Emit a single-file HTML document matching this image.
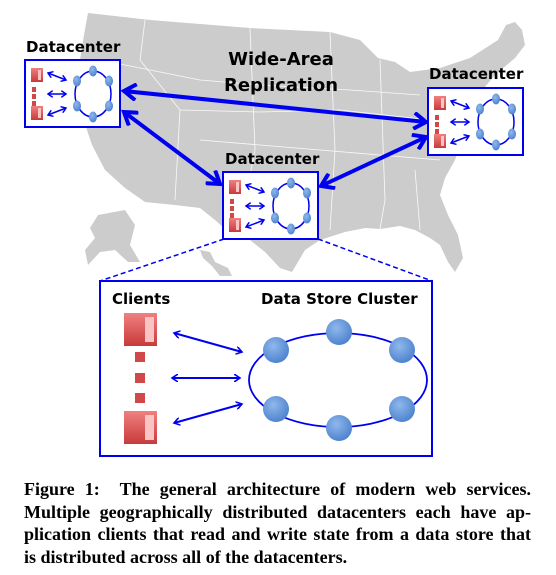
<!DOCTYPE html>
<html><head><meta charset="utf-8"><style>
html,body{margin:0;padding:0;background:#fff;width:556px;height:575px;overflow:hidden}
svg{position:absolute;left:0;top:0}
.cap{position:absolute;left:24px;top:478px;width:507px;font-family:"Liberation Serif",serif;font-weight:bold;font-size:18px;line-height:22.5px;color:#000}
.cap div{text-align:justify;text-align-last:justify;white-space:nowrap}
.cap div.l{text-align-last:left}
.lbl{font-family:"DejaVu Sans","Liberation Sans",sans-serif;font-weight:bold;fill:#000}
</style></head><body>
<svg width="556" height="575" viewBox="0 0 556 575">
<defs>
<linearGradient id="rg" x1="0" y1="0" x2="0" y2="1"><stop offset="0" stop-color="#f08080"/><stop offset="1" stop-color="#c83a3a"/></linearGradient>
<radialGradient id="bg" cx="0.4" cy="0.35" r="0.7"><stop offset="0" stop-color="#8fb8ec"/><stop offset="1" stop-color="#4a80cc"/></radialGradient>
<marker id="ah" markerWidth="8" markerHeight="8" refX="6" refY="4" orient="auto-start-reverse" markerUnits="userSpaceOnUse"><path d="M0,0 L6,4 L0,8" fill="none" stroke="#0000f0" stroke-width="1.6"/></marker>
<marker id="ahs" markerWidth="7" markerHeight="7" refX="5" refY="3.5" orient="auto-start-reverse" markerUnits="userSpaceOnUse"><path d="M0,0 L5,3.5 L0,7" fill="none" stroke="#0000f0" stroke-width="1.5"/></marker>
<marker id="ahb" markerWidth="18" markerHeight="18" refX="13" refY="9" orient="auto-start-reverse" markerUnits="userSpaceOnUse"><path d="M1,1 L13,9 L1,17" fill="none" stroke="#0000f0" stroke-width="4"/></marker>
<g id="dc">
<rect x="0" y="0" width="95" height="67" fill="#fff" stroke="#0000f0" stroke-width="2"/>
<rect x="6" y="8" width="12" height="14" fill="url(#rg)"/><rect x="13" y="10" width="3" height="10" fill="#fbc4c4"/>
<rect x="7" y="27" width="4" height="5" fill="#d04848"/><rect x="7" y="34" width="4" height="5" fill="#d04848"/><rect x="7" y="41" width="4" height="5" fill="#d04848"/>
<rect x="6" y="46" width="12" height="14" fill="url(#rg)"/><rect x="13" y="48" width="3" height="10" fill="#fbc4c4"/>
<line x1="23" y1="13" x2="41" y2="20" stroke="#0000f0" stroke-width="1.5" marker-start="url(#ahs)" marker-end="url(#ahs)"/>
<line x1="23" y1="34" x2="41" y2="34" stroke="#0000f0" stroke-width="1.5" marker-start="url(#ahs)" marker-end="url(#ahs)"/>
<line x1="23" y1="55" x2="41" y2="48" stroke="#0000f0" stroke-width="1.5" marker-start="url(#ahs)" marker-end="url(#ahs)"/>
<ellipse cx="68" cy="34" rx="18" ry="23" fill="none" stroke="#0000f0" stroke-width="1.5"/>
<ellipse cx="68" cy="11" rx="4" ry="5.5" fill="url(#bg)"/><ellipse cx="52" cy="21" rx="4" ry="5.5" fill="url(#bg)"/><ellipse cx="84" cy="21" rx="4" ry="5.5" fill="url(#bg)"/>
<ellipse cx="52" cy="46" rx="4" ry="5.5" fill="url(#bg)"/><ellipse cx="84" cy="46" rx="4" ry="5.5" fill="url(#bg)"/><ellipse cx="68" cy="57" rx="4" ry="5.5" fill="url(#bg)"/>
</g>
</defs>
<path fill="#cccccc" d="M88,13 L150,20 L250,28 L330,32 L360,40 L378,58 L395,62 L410,72 L440,68 L470,58 L498,40 L506,25 L515,22 L522,30 L525,45 L515,58 L495,75 L478,95 L465,120 L462,140 L455,160 L445,178 L440,195 L448,215 L458,235 L463,258 L455,272 L448,262 L440,245 L430,238 L415,230 L400,226 L380,229 L365,228 L345,232 L320,240 L305,250 L292,272 L280,268 L265,252 L250,240 L235,238 L215,220 L200,208 L175,205 L145,202 L125,188 L105,170 L92,145 L82,115 L78,90 L80,60 L84,35 Z"/>
<path fill="#cccccc" d="M98,215 L125,210 L135,225 L130,245 L140,262 L128,262 L115,250 L100,252 L88,265 L85,250 L95,238 L90,228 Z"/>
<path fill="#cccccc" d="M200,250 L210,252 L215,262 L228,268 L232,276 L220,276 L212,266 L203,258 Z"/>
<g stroke="#ffffff" stroke-width="0.8" fill="none" opacity="0.9">
<path d="M145,20 L140,60 L180,110 L175,200"/><path d="M100,60 L200,80 L260,85 L350,90 L420,95"/><path d="M180,110 L260,112 L340,110 L430,120"/><path d="M250,28 L255,150 L245,200"/><path d="M330,32 L335,150 L330,230"/><path d="M200,140 L320,150 L440,160"/><path d="M380,60 L385,200 L380,229"/><path d="M415,170 L420,230"/>
</g>
<line x1="224" y1="239" x2="100" y2="281" stroke="#0000f0" stroke-width="1.5" stroke-dasharray="5,3"/>
<line x1="318" y1="239" x2="432" y2="281" stroke="#0000f0" stroke-width="1.5" stroke-dasharray="5,3"/>
<line x1="124" y1="91" x2="426" y2="122" stroke="#0000f0" stroke-width="4" marker-start="url(#ahb)" marker-end="url(#ahb)"/>
<line x1="124" y1="112" x2="220" y2="184" stroke="#0000f0" stroke-width="4" marker-start="url(#ahb)" marker-end="url(#ahb)"/>
<line x1="321" y1="186" x2="426" y2="137" stroke="#0000f0" stroke-width="4" marker-start="url(#ahb)" marker-end="url(#ahb)"/>
<use href="#dc" x="25" y="60"/>
<use href="#dc" x="223" y="172"/>
<use href="#dc" x="428" y="88"/>
<text class="lbl" x="26" y="52" font-size="15">Datacenter</text>
<text class="lbl" x="225" y="164" font-size="15">Datacenter</text>
<text class="lbl" x="429" y="79" font-size="15">Datacenter</text>
<text class="lbl" x="281" y="65" font-size="18" text-anchor="middle">Wide-Area</text>
<text class="lbl" x="281" y="91" font-size="18" text-anchor="middle">Replication</text>
<rect x="100" y="281" width="332" height="175" fill="#fff" stroke="#0000f0" stroke-width="2"/>
<text class="lbl" x="112" y="304" font-size="15">Clients</text>
<text class="lbl" x="261" y="304" font-size="15">Data Store Cluster</text>
<rect x="124" y="313" width="33" height="33" fill="url(#rg)"/><rect x="145" y="317" width="9" height="25" fill="#fbc4c4"/>
<rect x="135" y="352" width="10" height="10" fill="#d04848"/><rect x="135" y="373" width="10" height="10" fill="#d04848"/><rect x="135" y="393" width="10" height="10" fill="#d04848"/>
<rect x="124" y="411" width="33" height="33" fill="url(#rg)"/><rect x="145" y="415" width="9" height="25" fill="#fbc4c4"/>
<line x1="174" y1="333" x2="242" y2="352" stroke="#0000f0" stroke-width="2" marker-start="url(#ah)" marker-end="url(#ah)"/>
<line x1="172" y1="378" x2="240" y2="378" stroke="#0000f0" stroke-width="2" marker-start="url(#ah)" marker-end="url(#ah)"/>
<line x1="174" y1="423" x2="242" y2="404" stroke="#0000f0" stroke-width="2" marker-start="url(#ah)" marker-end="url(#ah)"/>
<ellipse cx="338" cy="380" rx="89" ry="47" fill="none" stroke="#0000f0" stroke-width="1.8"/>
<circle cx="276" cy="350" r="13" fill="url(#bg)"/><circle cx="339" cy="332" r="13" fill="url(#bg)"/><circle cx="402" cy="350" r="13" fill="url(#bg)"/>
<circle cx="276" cy="409" r="13" fill="url(#bg)"/><circle cx="339" cy="428" r="13" fill="url(#bg)"/><circle cx="402" cy="409" r="13" fill="url(#bg)"/>
</svg>
<div class="cap">
<div>Figure 1:&nbsp; The general architecture of modern web services.</div>
<div>Multiple geographically distributed datacenters each have ap-</div>
<div>plication clients that read and write state from a data store that</div>
<div class="l">is distributed across all of the datacenters.</div>
</div>
</body></html>
